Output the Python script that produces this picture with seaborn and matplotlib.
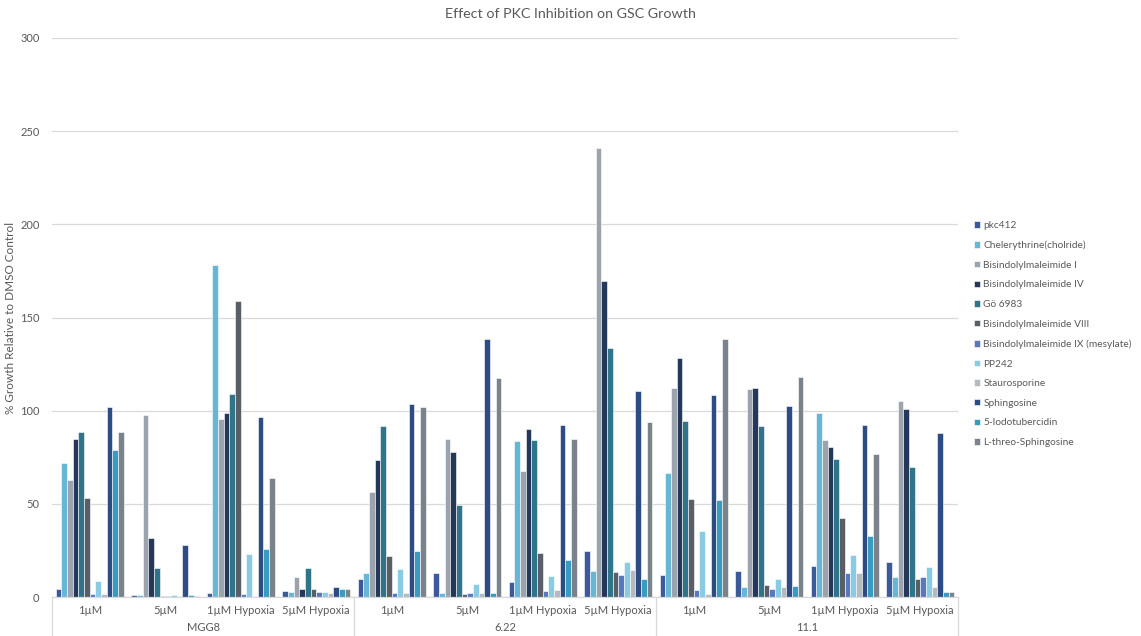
import matplotlib
matplotlib.use("Agg")
import matplotlib.pyplot as plt
import seaborn as sns
import pandas as pd

sns.set_theme(style="white")
plt.rcParams["font.family"] = ["Lato", "DejaVu Sans"]

cell_lines = ["MGG8", "6.22", "11.1"]
conditions = ["1µM", "5µM", "1µM Hypoxia", "5µM Hypoxia"]
compounds = [
    "pkc412", "Chelerythrine(cholride)", "Bisindolylmaleimide I",
    "Bisindolylmaleimide IV", "Gö 6983", "Bisindolylmaleimide VIII",
    "Bisindolylmaleimide IX (mesylate)", "PP242", "Staurosporine",
    "Sphingosine", "5-Iodotubercidin", "L-threo-Sphingosine",
]
colors = [
    "#3C5A9A", "#68B6D6", "#9BA3AC", "#253859", "#2F7489", "#595F66",
    "#5A78C0", "#88CBE3", "#B5BAC0", "#2E4C84", "#3A9BC1", "#7A838C",
]

# % growth per compound, one value per (cell line, condition) group
pkc412 =      [4.5, 1.0, 2.0, 3.4,   9.5, 13.0, 8.2, 24.7,   12.0, 14.0, 16.5, 18.6]
chelerythrine = [72.0, 1.0, 178.0, 2.9, 13.0, 2.1, 83.7, 14.0, 66.5, 5.4, 99.0, 10.9]
bim_i =       [63.0, 97.5, 95.5, 10.6, 56.5, 85.0, 67.5, 240.8, 112.0, 111.5, 84.0, 105.2]
bim_iv =      [84.6, 31.5, 99.0, 4.1,  73.7, 78.0, 90.0, 169.5, 128.0, 112.0, 80.7, 101.0]
go6983 =      [88.7, 15.8, 109.0, 15.4, 91.6, 49.4, 84.1, 133.7, 94.5, 92.0, 74.0, 69.8]
bim_viii =    [53.0, 0.5, 159.0, 4.3,  22.2, 1.6, 23.8, 13.6,  52.8, 6.4, 42.2, 9.7]
bim_ix =      [1.6, 0.5, 1.6, 2.9,     2.1, 2.0, 3.2, 11.8,    3.8, 4.5, 13.0, 10.6]
pp242 =       [8.6, 1.0, 23.0, 2.9,    14.9, 7.2, 11.5, 18.8,  35.6, 9.5, 22.5, 16.0]
staurosporine = [1.6, 0.5, 0.0, 2.2,   2.3, 2.1, 3.6, 14.3,    1.6, 5.4, 13.0, 5.4]
sphingosine = [102.0, 28.0, 96.8, 5.2, 103.6, 138.3, 92.5, 110.7, 108.6, 102.7, 92.5, 87.8]
iodotubercidin = [79.0, 1.0, 25.6, 4.1, 24.9, 2.3, 20.0, 9.7,  52.2, 5.7, 32.7, 2.7]
l_threo =     [88.6, 0.5, 63.7, 4.1,   101.8, 117.4, 84.8, 94.1, 138.6, 118.3, 76.6, 2.5]

series = [pkc412, chelerythrine, bim_i, bim_iv, go6983, bim_viii, bim_ix,
          pp242, staurosporine, sphingosine, iodotubercidin, l_threo]

group_keys = [f"{c}|{k}" for c in cell_lines for k in conditions]
rows = []
for name, vals in zip(compounds, series):
    for g, v in zip(group_keys, vals):
        rows.append({"group": g, "compound": name, "growth": v})
df = pd.DataFrame(rows)

W, H = 1141, 636
fig = plt.figure(figsize=(W / 100, H / 100), dpi=100)
ax = fig.add_axes([52 / W, 1 - 597 / H, (958 - 52) / W, (597 - 38) / H])

sns.barplot(data=df, x="group", y="growth", hue="compound", order=group_keys,
            hue_order=compounds, palette=colors, saturation=1, width=0.9, ax=ax,
            edgecolor="white", linewidth=0.4, errorbar=None, legend=True)

text_color = "#595959"
ax.set_ylim(0, 300)
ax.set_xlim(-0.5, len(group_keys) - 0.5)
ax.set_yticks(range(0, 301, 50))
ax.tick_params(axis="y", labelsize=8, colors=text_color, length=0, pad=9)
ax.grid(axis="y", color="#D9D9D9", linewidth=0.9)
ax.set_axisbelow(True)
for s in ["top", "right", "left"]:
    ax.spines[s].set_visible(False)
ax.spines["bottom"].set_color("#D9D9D9")
ax.spines["bottom"].set_linewidth(0.9)
ax.set_xticks([])
ax.set_xlabel("")
ax.set_ylabel("% Growth Relative to DMSO Control", fontsize=8.5, color=text_color)
ax.yaxis.set_label_coords(-(52 - 16) / (958 - 52), 0.5)

# Two-level category axis: conditions, then cell lines
trans = ax.get_xaxis_transform()
for i, g in enumerate(group_keys):
    cond = g.split("|")[1]
    ax.text(i, -0.024, cond, transform=trans, ha="center", va="center",
            fontsize=8, color=text_color)
for j, cl in enumerate(cell_lines):
    ax.text(j * 4 + 1.5, -0.055, cl, transform=trans, ha="center", va="center",
            fontsize=8, color=text_color)
for b in range(len(cell_lines) + 1):
    ax.plot([b * 4 - 0.5, b * 4 - 0.5], [0, -0.07], transform=trans,
            color="#D9D9D9", linewidth=0.9, clip_on=False)

fig.text(0.5, 1 - 14 / H, "Effect of PKC Inhibition on GSC Growth", fontsize=10.3,
         color=text_color, ha="center", va="center")

handles, labels = ax.get_legend_handles_labels()
ax.legend_.remove()
fig.legend(handles, labels, loc="center left", bbox_to_anchor=(965 / W, 1 - 334 / H),
           frameon=False, fontsize=7.3, handlelength=0.6, handleheight=0.6,
           handletextpad=0.3, labelspacing=1.05, labelcolor=text_color)

fig.savefig("out.png", dpi=100)
